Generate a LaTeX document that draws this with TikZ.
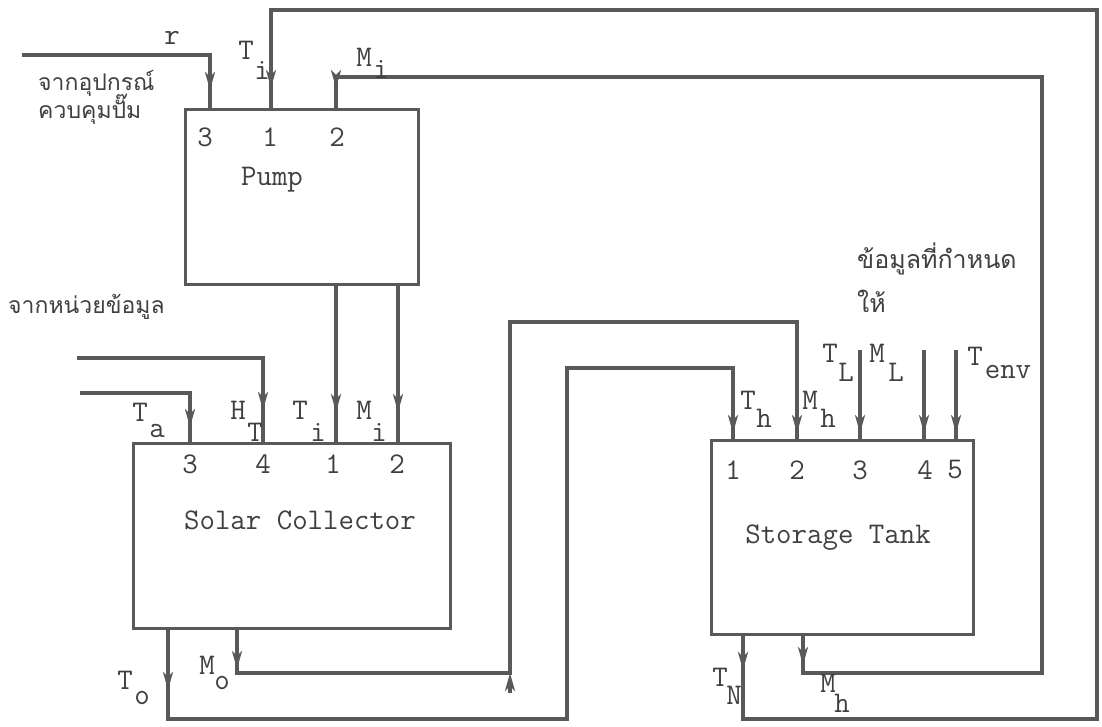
\documentclass[tikz,border=0pt]{standalone}
\usepackage{fontspec}
\newfontfamily\thaifont[Script=Thai]{Loma}
\usetikzlibrary{arrows.meta,decorations.markings}
\definecolor{linegray}{HTML}{595959}
\definecolor{textgray}{HTML}{404040}
\newcommand\ttbig{\fontsize{30}{32}\selectfont\ttfamily}
\begin{document}
\begin{tikzpicture}[x=1pt,y=-1pt,
  conn/.style={draw=linegray,line width=3.2pt,line join=miter},
  box/.style={draw=linegray,line width=3.2pt,inner sep=0pt,anchor=north west},
  arr/.style={postaction={decorate,decoration={markings,mark=at position #1 with {\arrow{Stealth[length=18pt,width=10pt,inset=5pt]}}}}},
  tiponly/.style={draw=linegray,line width=3.2pt,-{Stealth[length=18pt,width=10pt,inset=5pt]}},
  tt/.style={font=\ttbig,text=textgray,inner sep=0pt},
  th/.style={text=textgray,inner sep=0pt,anchor=base west}]
\useasboundingbox[fill=white] (0,0) rectangle (1102,726);

% boxes
\node[box,minimum width=233pt,minimum height=175pt] (pump) at (184,108) {};
\node[box,minimum width=317pt,minimum height=185pt] (coll) at (132,442) {};
\node[box,minimum width=262pt,minimum height=194pt] (tank) at (710,439) {};

% ports
\coordinate (pr) at (210,108);
\coordinate (pT) at (271,108);
\coordinate (pM) at (336,108);
\coordinate (pb1) at (336,283);
\coordinate (pb2) at (398,283);
\coordinate (c3) at (190,442);
\coordinate (c4) at (263,442);
\coordinate (c1) at (336,442);
\coordinate (c2) at (398,442);
\coordinate (cbT) at (168,627);
\coordinate (cbM) at (237,627);
\coordinate (t1) at (733,439);
\coordinate (t2) at (797,439);
\coordinate (t3) at (860,439);
\coordinate (t4) at (924,439);
\coordinate (t5) at (956,439);
\coordinate (tbT) at (743,633);
\coordinate (tbM) at (803,633);
% free ends
\coordinate (rstart) at (22,55);
\coordinate (hstart) at (77,358);
\coordinate (astart) at (80,393);
\coordinate (L3) at (860,350);
\coordinate (L4) at (924,350);
\coordinate (L5) at (956,350);
\coordinate (mocorner) at (510,673);
\coordinate (mocornerlow) at (510,693);

% connectors
\draw[conn,arr=-18pt] (rstart) -| (pr);
\draw[conn,arr=37pt,arr=-20pt] (tbT) -- (743,719) -- (1097,719) -- (1097,10) -- (271,10) -- (pT);
\draw[conn,arr=32pt,arr=-20pt] (tbM) -- (803,673) -- (1042,673) -- (1042,77) -- (336,77) -- (pM);
\draw[conn,arr=-30pt] (pb1) -- (c1);
\draw[conn,arr=-30pt] (pb2) -- (c2);
\draw[conn,arr=-32pt] (hstart) -| (c4);
\draw[conn,arr=-15pt] (astart) -| (c3);
\draw[conn,arr=63pt,arr=-6pt] (cbT) -- (168,719) -- (567,719) -- (567,368) -- (733,368) -- (t1);
\draw[conn,arr=42pt,arr=-6pt] (cbM) -- (237,673) -- (mocorner) -- (510,322) -- (797,322) -- (t2);
\draw[tiponly] (mocornerlow) -- (mocorner);
\draw[conn,arr=-6pt] (L3) -- (t3);
\draw[conn,arr=-6pt] (L4) -- (t4);
\draw[conn,arr=-6pt] (L5) -- (t5);

% box texts
\node[tt] (pn3) at (205,137) {3};
\node[tt] (pn1) at (270,137) {1};
\node[tt] (pn2) at (337,137) {2};
\node[tt] (pumpname) at (272,180) {Pump};
\node[tt] (cn3) at (190,464) {3};
\node[tt] (cn4) at (263,464) {4};
\node[tt] (cn1) at (333,464) {1};
\node[tt] (cn2) at (397,464) {2};
\node[tt] (collname) at (300,520) {Solar Collector};
\node[tt] (tn1) at (733,470) {1};
\node[tt] (tn2) at (797,470) {2};
\node[tt] (tn3) at (860,470) {3};
\node[tt] (tn4) at (925,470) {4};
\node[tt] (tn5) at (955,470) {5};
\node[tt] (tankname) at (838,538) {Storage Tank};

% signal labels
\node[tt] (rl) at (172,38) {r};
\node[tt] (TiP) at (246,50) {T};
\node[tt] (TiPs) at (262,70) {i};
\node[tt] (MiP) at (364,57) {M};
\node[tt] (MiPs) at (381,69) {i};
\node[tt] (Ta) at (140,412) {T};
\node[tt] (Tas) at (157,431) {a};
\node[tt] (HT) at (238,410) {H};
\node[tt] (HTs) at (255,432) {T};
\node[tt] (TiC) at (300,410) {T};
\node[tt] (TiCs) at (318,432) {i};
\node[tt] (MiC) at (364,410) {M};
\node[tt] (MiCs) at (379,432) {i};
\node[tt] (Th) at (748,400) {T};
\node[tt] (Ths) at (764,418) {h};
\node[tt] (Mh) at (810,400) {M};
\node[tt] (Mhs) at (828,418) {h};
\node[tt] (TL) at (830,353) {T};
\node[tt] (TLs) at (846,372) {L};
\node[tt] (ML) at (877,353) {M};
\node[tt] (MLs) at (896,372) {L};
\node[tt] (Tenv) at (975,356) {T};
\node[tt] (Tenvs) at (1008,372) {env};
\node[tt] (To) at (125,680) {T};
\node[tt] (Tos) at (142,698) {o};
\node[tt] (Mo) at (207,665) {M};
\node[tt] (Mos) at (222,683) {o};
\node[tt] (TN) at (720,677) {T};
\node[tt] (TNs) at (734,695) {N};
\node[tt] (Mhb) at (828,683) {M};
\node[tt] (Mhbs) at (842,703) {h};

% Thai texts
\node[th,font=\fontsize{23}{25}\selectfont\thaifont] (th1) at (38,90) {จากอุปกรณ์};
\node[th,font=\fontsize{23}{25}\selectfont\thaifont] (th2) at (38,118) {ควบคุมปั๊ม};
\node[th,font=\fontsize{23}{25}\selectfont\thaifont] (th3) at (8,313) {จากหน่วยข้อมูล};
\node[th,font=\fontsize{25}{27}\selectfont\thaifont] (th4) at (857,268) {ข้อมูลที่กำหนด};
\node[th,font=\fontsize{25}{27}\selectfont\thaifont] (th5) at (857,312) {ให้};
\end{tikzpicture}
\end{document}
